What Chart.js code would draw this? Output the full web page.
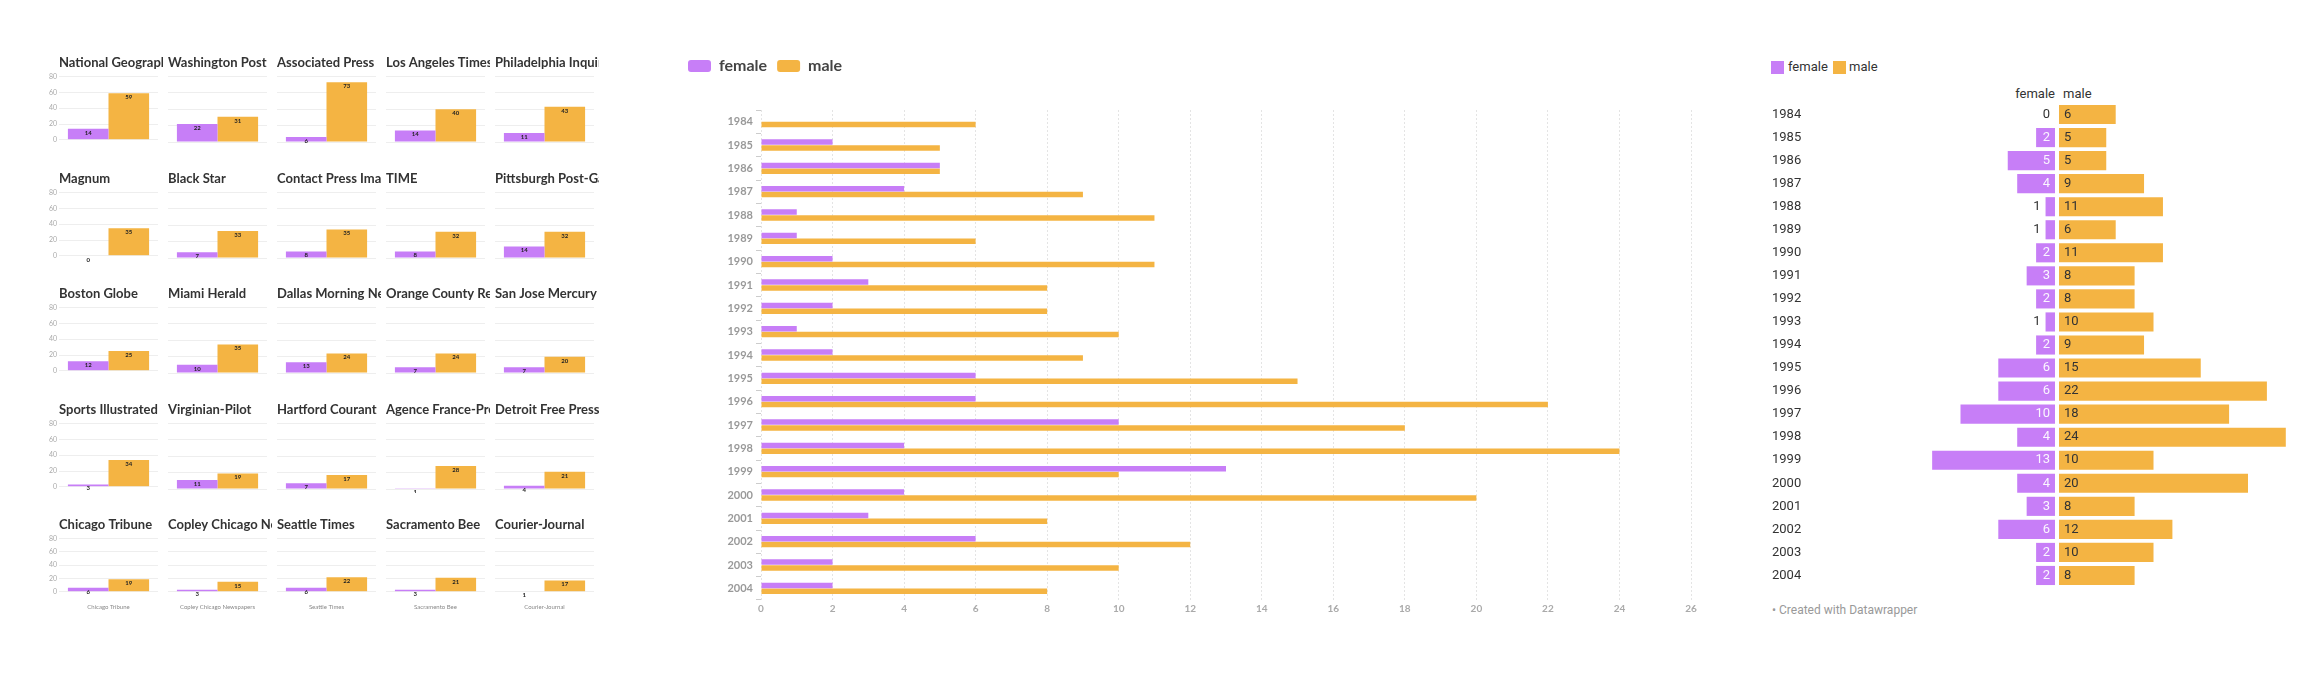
<!DOCTYPE html>
<html>
<head>
<meta charset="utf-8">
<script src="https://cdn.jsdelivr.net/npm/chart.js"></script>
<style>
  body { margin: 0; background: #fff; width: 2319px; height: 690px; position: relative; overflow: hidden; font-family: Roboto, sans-serif; }
  canvas, .abs { position: absolute; }
  .sw { position: absolute; width: 13px; height: 13px; }
  .dw { font-size: 13px; color: #333; white-space: nowrap; }
</style>
</head>
<body>
<div id="multiples"></div>
<canvas id="mid" width="1040" height="573" style="left:678px;top:48px"></canvas>

<!-- Datawrapper-style split bars -->
<div class="sw" style="left:1771px;top:61px;background:#c77ef7"></div>
<div class="abs dw" style="left:1788px;top:59px">female</div>
<div class="sw" style="left:1833px;top:61px;background:#f4b443"></div>
<div class="abs dw" style="left:1849px;top:59px">male</div>
<div class="abs dw" style="left:1955px;width:100px;text-align:right;top:86px">female</div>
<div class="abs dw" style="left:2063px;top:86px">male</div>
<canvas id="fem" width="295" height="484" style="left:1760px;top:103px"></canvas>
<canvas id="mal" width="240" height="484" style="left:2059px;top:103px"></canvas>
<div class="abs" style="left:1772px;top:603px;font-size:12px;color:#999">&bull; Created with Datawrapper</div>

<script>
// ---- data ----
const outlets = ["National Geographic", "Washington Post", "Associated Press", "Los Angeles Times", "Philadelphia Inquirer",
  "Magnum", "Black Star", "Contact Press Images", "TIME", "Pittsburgh Post-Gazette",
  "Boston Globe", "Miami Herald", "Dallas Morning News", "Orange County Register", "San Jose Mercury News",
  "Sports Illustrated", "Virginian-Pilot", "Hartford Courant", "Agence France-Presse", "Detroit Free Press",
  "Chicago Tribune", "Copley Chicago Newspapers", "Seattle Times", "Sacramento Bee", "Courier-Journal"];
const outletFemale = [14, 22, 6, 14, 11, 0, 7, 8, 8, 14, 12, 10, 13, 7, 7, 3, 11, 7, 1, 4, 6, 3, 6, 3, 1];
const outletMale = [59, 31, 73, 40, 43, 35, 33, 35, 32, 32, 25, 35, 24, 24, 20, 34, 19, 17, 28, 21, 19, 15, 22, 21, 17];

const years = ["1984", "1985", "1986", "1987", "1988", "1989", "1990", "1991", "1992", "1993", "1994",
  "1995", "1996", "1997", "1998", "1999", "2000", "2001", "2002", "2003", "2004"];
const female = [0, 2, 5, 4, 1, 1, 2, 3, 2, 1, 2, 6, 6, 10, 4, 13, 4, 3, 6, 2, 2];
const male = [6, 5, 5, 9, 11, 6, 11, 8, 8, 10, 9, 15, 22, 18, 24, 10, 20, 8, 12, 10, 8];

const yTicks = [0, 20, 40, 60, 80];

const PURPLE = "#c77ef7";
const ORANGE = "#f4b443";

// ---- small multiples ----
// value labels just under the top of each bar
const smallLabels = {
  id: "smallLabels",
  afterDatasetsDraw(chart) {
    const ctx = chart.ctx;
    ctx.save();
    ctx.font = "bold 6px Lato";
    ctx.fillStyle = "#222";
    ctx.textAlign = "center";
    ctx.textBaseline = "middle";
    chart.data.datasets.forEach((ds, di) => {
      chart.getDatasetMeta(di).data.forEach((bar, j) => {
        ctx.fillText(ds.data[j], bar.x, bar.y + 4);
      });
    });
    ctx.restore();
  }
};

// title drawn at full size; the canvas edge clips long names like the original
const smallTitle = {
  id: "smallTitle",
  afterDraw(chart) {
    const ctx = chart.ctx;
    ctx.save();
    ctx.font = "bold 13px Lato";
    ctx.fillStyle = "#333";
    ctx.textAlign = "left";
    ctx.textBaseline = "middle";
    ctx.fillText(chart.data.labels[0], chart.chartArea.left, chart.chartArea.top - 14);
    ctx.restore();
  }
};

const holder = document.getElementById("multiples");
outlets.forEach((name, i) => {
  const col = i % 5, row = Math.floor(i / 5);
  const last = row === 4;
  const axisW = col === 0 ? 18 : 0;
  const plotLeft = 59 + col * 109;
  const cv = document.createElement("canvas");
  cv.width = axisW + 99 + 5;
  cv.height = last ? 105 : 95;
  cv.style.left = (plotLeft - axisW) + "px";
  cv.style.top = (51.4 + row * 115.5) + "px";
  holder.appendChild(cv);

  new Chart(cv, {
    type: "bar",
    data: {
      labels: [name],
      datasets: [
        { label: "female", data: [outletFemale[i]], backgroundColor: PURPLE, categoryPercentage: 0.82, barPercentage: 1 },
        { label: "male", data: [outletMale[i]], backgroundColor: ORANGE, categoryPercentage: 0.82, barPercentage: 1 }
      ]
    },
    options: {
      responsive: false,
      animation: false,
      layout: { padding: { left: 0, right: 5, top: 25.6, bottom: last ? 3 : 4 } },
      plugins: {
        legend: { display: false },
        tooltip: { enabled: false }
      },
      scales: {
        x: {
          display: last,
          grid: { display: false },
          border: { display: false },
          ticks: { color: "#888", font: { family: "Lato", size: 6 }, padding: 4 }
        },
        y: {
          min: 0, max: 80,
          afterBuildTicks: (s) => { s.ticks = yTicks.map(v => ({ value: v })); },
          afterFit: (s) => { s.width = axisW; },
          ticks: { display: col === 0, color: "#aaa", font: { family: "Lato", size: 7 }, padding: 2 },
          grid: { color: "#eeeeee", drawTicks: false },
          border: { display: false }
        }
      }
    },
    plugins: [smallLabels, smallTitle]
  });
});

// ---- grouped horizontal bars ----
const legendGap = {
  id: "legendGap",
  beforeInit(chart) {
    const fit = chart.legend.fit;
    chart.legend.fit = function () {
      fit.bind(chart.legend)();
      this.height += 26;
    };
  }
};

new Chart(document.getElementById("mid"), {
  type: "bar",
  data: {
    labels: years,
    datasets: [
      { label: "female", data: female, backgroundColor: PURPLE, categoryPercentage: 0.5, barPercentage: 0.95 },
      { label: "male", data: male, backgroundColor: ORANGE, categoryPercentage: 0.5, barPercentage: 0.95 }
    ]
  },
  options: {
    indexAxis: "y",
    responsive: false,
    animation: false,
    layout: { padding: { left: 0, right: 27, top: 0, bottom: 3 } },
    plugins: {
      tooltip: { enabled: false },
      legend: {
        align: "start",
        labels: {
          boxWidth: 23, boxHeight: 12, useBorderRadius: true, borderRadius: 3,
          color: "#444", font: { family: "Lato", weight: "bold", size: 16 }, padding: 10
        }
      }
    },
    scales: {
      x: {
        min: 0, max: 26,
        ticks: { stepSize: 2, color: "#aaa", font: { family: "Lato", weight: "bold", size: 10 }, padding: 3 },
        grid: { color: "#e4e4e4", drawTicks: false, borderDash: [2, 2] },
        border: { display: false, dash: [2, 2] }
      },
      y: {
        afterFit: (s) => { s.width = 83; },
        ticks: { color: "#999", font: { family: "Lato", weight: "bold", size: 11 }, padding: 3 },
        grid: { drawOnChartArea: false, tickLength: 5, color: "#ccc" },
        border: { display: false }
      }
    }
  },
  plugins: [legendGap]
});

// ---- split bars (female left, male right) ----
const PX_PER_UNIT = 9.45;

const femaleText = {
  id: "femaleText",
  afterDatasetsDraw(chart) {
    const ctx = chart.ctx;
    ctx.save();
    ctx.font = "13px Roboto";
    ctx.textBaseline = "middle";
    ctx.textAlign = "right";
    chart.getDatasetMeta(0).data.forEach((bar, j) => {
      const txt = String(female[j]);
      const w = bar.base - bar.x;
      if (w >= ctx.measureText(txt).width + 10) {
        ctx.fillStyle = "rgba(255,255,255,0.92)";
        ctx.fillText(txt, bar.base - 5, bar.y);
      } else {
        ctx.fillStyle = "#333";
        ctx.fillText(txt, bar.x - 5, bar.y);
      }
    });
    // year labels
    ctx.textAlign = "left";
    ctx.fillStyle = "#333";
    years.forEach((y, j) => {
      ctx.fillText(y, 12, chart.scales.y.getPixelForValue(j));
    });
    ctx.restore();
  }
};

const maleText = {
  id: "maleText",
  afterDatasetsDraw(chart) {
    const ctx = chart.ctx;
    ctx.save();
    ctx.font = "13px Roboto";
    ctx.textBaseline = "middle";
    ctx.textAlign = "left";
    ctx.fillStyle = "#333";
    chart.getDatasetMeta(0).data.forEach((bar, j) => {
      ctx.fillText(String(male[j]), bar.base + 5, bar.y);
    });
    ctx.restore();
  }
};

function splitChart(id, values, color, reverse, plugin) {
  const cv = document.getElementById(id);
  return new Chart(cv, {
    type: "bar",
    data: {
      labels: years,
      datasets: [{ data: values, backgroundColor: color, categoryPercentage: 0.83, barPercentage: 1 }]
    },
    options: {
      indexAxis: "y",
      responsive: false,
      animation: false,
      layout: { padding: 0 },
      plugins: { legend: { display: false }, tooltip: { enabled: false } },
      scales: {
        x: { display: false, min: 0, max: cv.width / PX_PER_UNIT, reverse: reverse },
        y: { display: false }
      }
    },
    plugins: [plugin]
  });
}

splitChart("fem", female, PURPLE, true, femaleText);
splitChart("mal", male, ORANGE, false, maleText);
</script>
</body>
</html>
